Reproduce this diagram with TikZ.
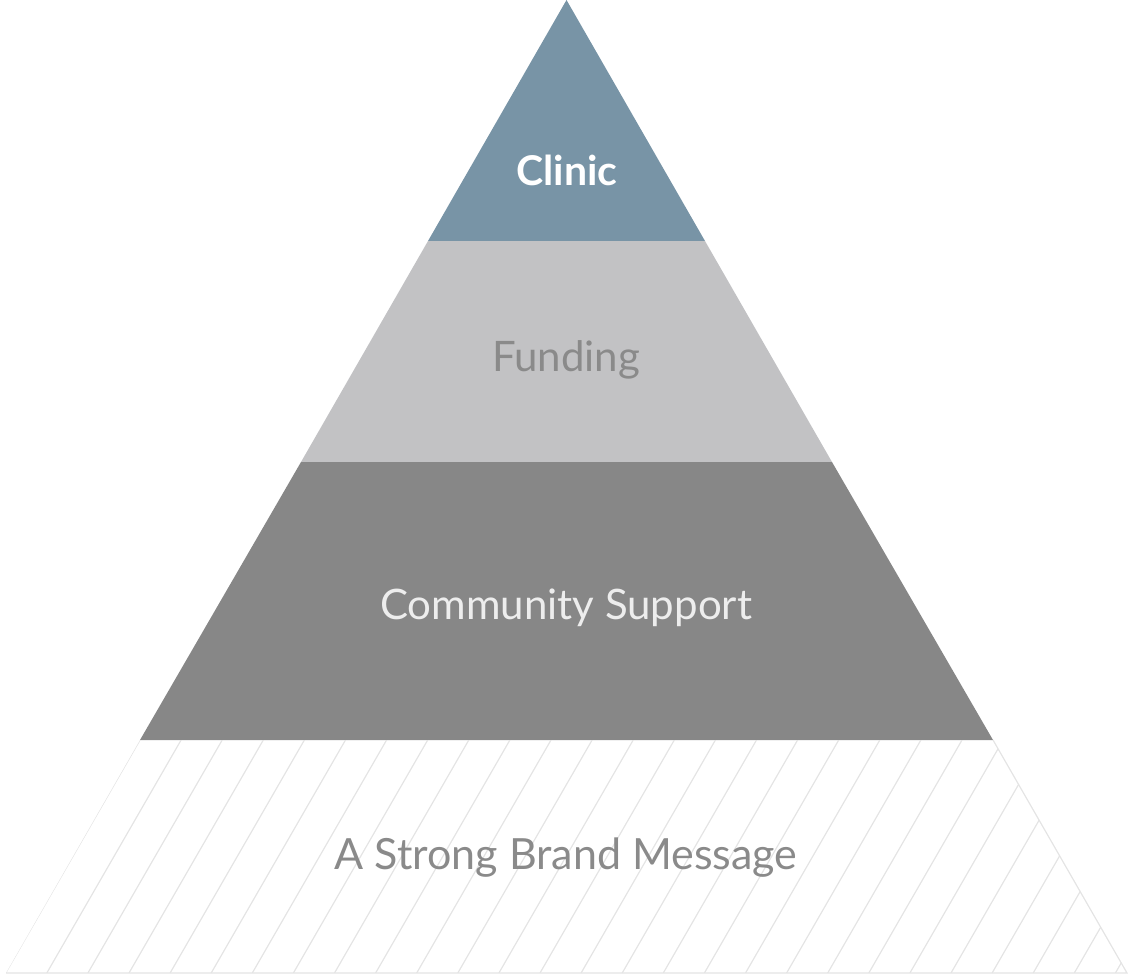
\documentclass[tikz,border=0pt]{standalone}
\usepackage{fontspec}
\setmainfont{Lato}
\usetikzlibrary{positioning}
\definecolor{clinicblue}{HTML}{7894A6}
\definecolor{fundgray}{HTML}{C2C2C4}
\definecolor{commgray}{HTML}{878787}
\definecolor{textgray}{HTML}{8A8A8A}
\definecolor{hatchgray}{HTML}{E4E4E4}

\begin{document}
\begin{tikzpicture}[x=1pt,y=-1pt]
\tikzstyle{every node} = [inner sep=0pt, anchor=base, font=\fontsize{42}{48}\selectfont]
\tikzstyle{hatch} = [draw=hatchgray, line width=1.2pt]
\useasboundingbox (0,0) rectangle (1129,975);

\fill[clinicblue] (566.5,0) -- (705,241) -- (428,241) -- cycle;
\fill[fundgray] (428,241) -- (705,241) -- (832,462) -- (301,462) -- cycle;
\fill[commgray] (301,462) -- (832,462) -- (993,740) -- (140,740) -- cycle;

% hatched base
\begin{scope}
\clip (140,740) -- (993,740) -- (1127,973) -- (6,973) -- cycle;
\foreach \i in {0,...,27}
  \draw[hatch] (140+41.1*\i,740) -- ++(-134.3,233);
\end{scope}
\draw[hatch] (993,740) -- (1127,973) -- (6,973);

\node[white, font=\fontsize{41}{46}\selectfont\bfseries] (clinic) at (567,185) {Clinic};
\node[textgray] (funding) at (566,371) {Funding};
\node[white!93!black] (community) at (566,619) {Community Support};
\node[textgray, font=\fontsize{43}{49}\selectfont] (brand) at (566,869) {A Strong Brand Message};
\end{tikzpicture}
\end{document}
